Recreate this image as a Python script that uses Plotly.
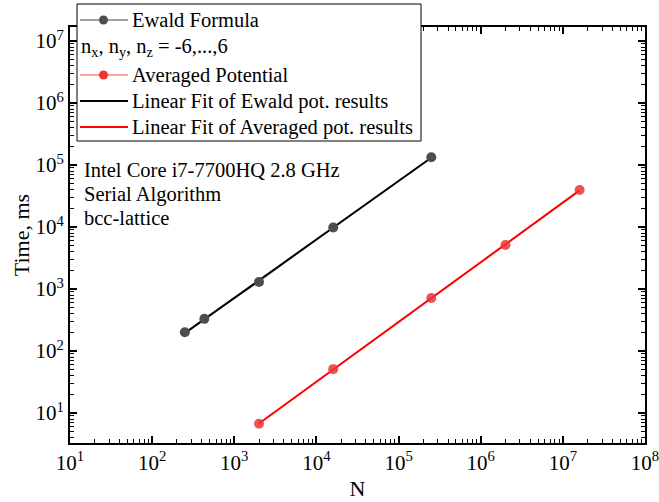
import numpy as np
import plotly.graph_objects as go

# ---- data ----
N_ewald = [250, 432, 2000, 16000, 250000]
T_ewald = [200, 330, 1300, 9800, 133000]
N_avg = [2000, 16000, 250000, 2000000, 16000000]
T_avg = [6.7, 51, 716, 5130, 39500]

x_tickvals = [10**k for k in range(1, 9)]
x_ticktext = [f"10<sup>{k}</sup>" for k in range(1, 9)]
y_tickvals = [10**k for k in range(1, 8)]
y_ticktext = [f"10<sup>{k}</sup>" for k in range(1, 8)]

legend_labels = ["Ewald Formula", "n<sub>x</sub>, n<sub>y</sub>, n<sub>z</sub> = -6,...,6",
                 "Averaged Potential", "Linear Fit of Ewald pot. results",
                 "Linear Fit of Averaged pot. results"]
info_lines = ["Intel Core i7-7700HQ 2.8 GHz", "Serial Algorithm", "bcc-lattice"]

# ---- linear fits in log-log space ----
def loglog_fit(x, y):
    lx, ly = np.log10(x), np.log10(y)
    b, a = np.polyfit(lx, ly, 1)
    xs = np.array([min(x), max(x)], dtype=float)
    return xs, 10 ** (a + b * np.log10(xs))

fx_e, fy_e = loglog_fit(N_ewald, T_ewald)
fx_a, fy_a = loglog_fit(N_avg, T_avg)

FONT = "Liberation Serif"
TXT = 20.5
W, H = 659, 502
L, R, T, B = 70, 14, 27, 59
PW, PH = W - L - R, H - T - B

def px(xp):
    return (xp - L) / PW

def py(yp):
    return (H - B - yp) / PH

fig = go.Figure()
# data lines
fig.add_trace(go.Scatter(x=N_ewald, y=T_ewald, mode="lines",
                         line=dict(color="#808080", width=1), showlegend=False))
fig.add_trace(go.Scatter(x=N_avg, y=T_avg, mode="lines",
                         line=dict(color="#ff8080", width=1), showlegend=False))
# fits
fig.add_trace(go.Scatter(x=fx_e, y=fy_e, mode="lines",
                         line=dict(color="black", width=2), showlegend=False))
fig.add_trace(go.Scatter(x=fx_a, y=fy_a, mode="lines",
                         line=dict(color="#ff0000", width=2), showlegend=False))
# markers
fig.add_trace(go.Scatter(x=N_ewald, y=T_ewald, mode="markers",
                         marker=dict(color="#4d4d4d", size=10, line=dict(width=0)),
                         showlegend=False))
fig.add_trace(go.Scatter(x=N_avg, y=T_avg, mode="markers",
                         marker=dict(color="rgba(240,50,50,0.85)", size=10, line=dict(width=0)),
                         showlegend=False))

axis_common = dict(
    type="log", showgrid=False, zeroline=False, automargin=False,
    ticklabeloverflow="allow",
    showline=True, linecolor="black", linewidth=2, mirror="ticks",
    ticks="inside", ticklen=7, tickwidth=1.5, tickcolor="black",
    tickfont=dict(family=FONT, size=21, color="black"),
    minor=dict(ticks="inside", ticklen=4, tickwidth=1, tickcolor="black", dtick="D1", showgrid=False),
)

fig.update_xaxes(range=[1, 8], tickvals=x_tickvals, ticktext=x_ticktext,
                 title=dict(text="N", font=dict(family=FONT, size=22, color="black"), standoff=6),
                 **axis_common)
fig.update_yaxes(range=[0.516, 7.226], tickvals=y_tickvals, ticktext=y_ticktext,
                 title=dict(text="Time, ms", font=dict(family=FONT, size=22, color="black"), standoff=0),
                 **axis_common)

shapes = []
annotations = []
# legend box
shapes.append(dict(type="rect", xref="paper", yref="paper",
                   x0=px(77), x1=px(421), y0=py(141), y1=py(4),
                   line=dict(color="black", width=1), fillcolor="white", layer="above"))
rows = [20, 47, 75, 101, 127]
samples = [("#808080", 1.5, "#4d4d4d"), None, ("#ff8080", 1.5, "#f03232"),
           ("black", 2, None), ("#ff0000", 2, None)]
for r, lab, smp in zip(rows, legend_labels, samples):
    if smp is None:
        annotations.append(dict(xref="paper", yref="paper", x=px(79), y=py(r),
                                text=lab, showarrow=False, xanchor="left", yanchor="middle",
                                font=dict(family=FONT, size=TXT, color="black")))
        continue
    col, w, mcol = smp
    shapes.append(dict(type="line", xref="paper", yref="paper",
                       x0=px(80), x1=px(128), y0=py(r), y1=py(r),
                       line=dict(color=col, width=w), layer="above"))
    if mcol:
        shapes.append(dict(type="circle", xref="paper", yref="paper",
                           x0=px(99), x1=px(108), y0=py(r + 4.5), y1=py(r - 4.5),
                           line=dict(width=0), fillcolor=mcol, layer="above"))
    annotations.append(dict(xref="paper", yref="paper", x=px(130), y=py(r),
                            text=lab, showarrow=False, xanchor="left", yanchor="middle",
                            font=dict(family=FONT, size=TXT, color="black")))

for i, t in enumerate(info_lines):
    annotations.append(dict(xref="paper", yref="paper", x=px(82), y=py(170 + 24 * i),
                            text=t, showarrow=False, xanchor="left", yanchor="middle",
                            font=dict(family=FONT, size=TXT, color="black")))

fig.update_layout(width=W, height=H, margin=dict(l=L, r=R, t=T, b=B),
                  paper_bgcolor="white", plot_bgcolor="white",
                  shapes=shapes, annotations=annotations, showlegend=False)

fig.write_html("out.html")
